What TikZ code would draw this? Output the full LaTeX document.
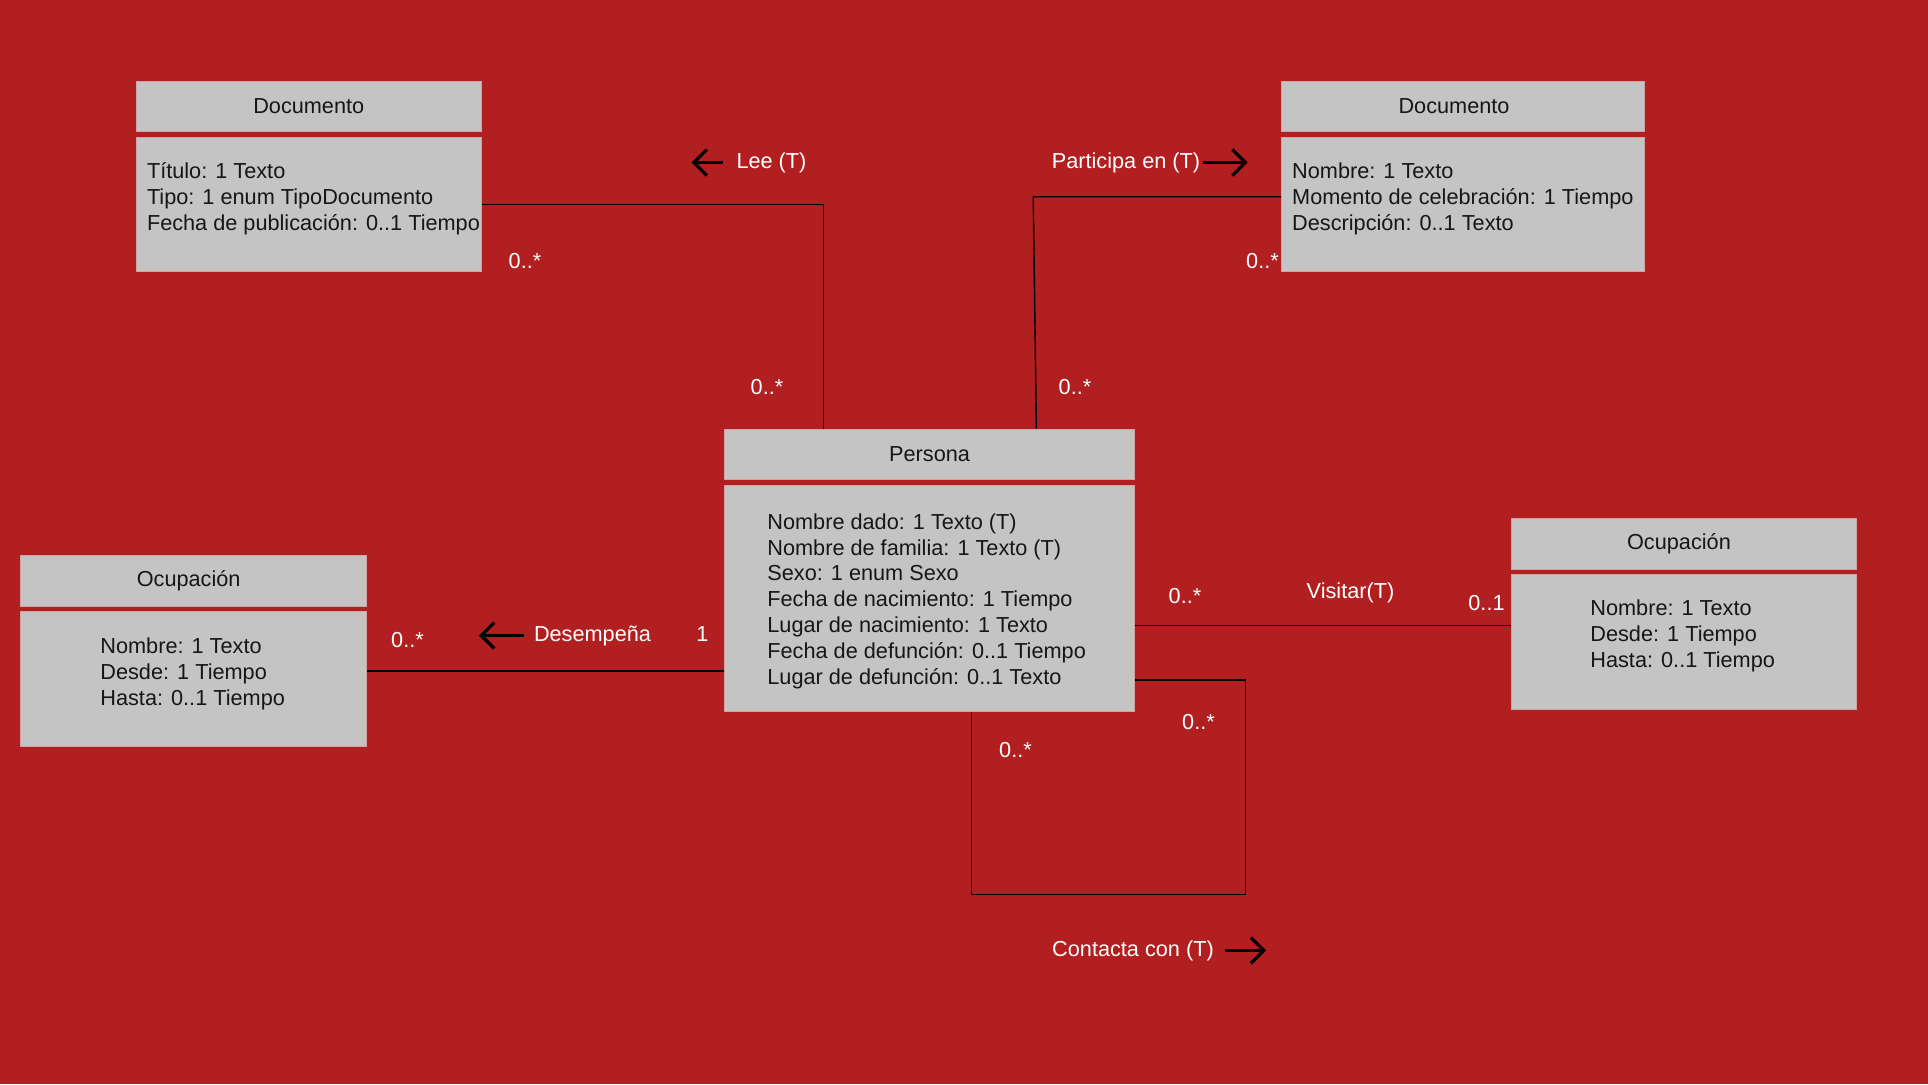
\documentclass[tikz,border=0pt]{standalone}
\usepackage{fontspec}
\setmainfont{Liberation Sans}
\usetikzlibrary{positioning}
\usetikzlibrary{arrows.meta}
\definecolor{bgred}{HTML}{B21F20}
\definecolor{boxgray}{HTML}{C4C4C4}
\definecolor{boxedge}{HTML}{CFA3A3}
\definecolor{boxtext}{HTML}{161616}
\newcommand{\umlfont}{\fontsize{10.85}{12.9}\selectfont}
\tikzset{
  classhead/.style={fill=boxgray, draw=boxedge, line width=0.5pt, inner sep=0pt, minimum height=25.25pt, font=\umlfont, text=boxtext},
  classbody/.style={fill=boxgray, draw=boxedge, line width=0.5pt, inner sep=0pt},
  attrs/.style={anchor=base west, align=left, inner sep=0pt, font=\umlfont, text=boxtext},
  mult/.style={inner sep=0pt, font=\umlfont, text=white},
  assoc/.style={draw=black, line width=0.7pt},
  dirarrow/.style={-{Straight Barb[length=6.5pt,width=13pt]}, line width=1.6pt, black},
}
\begin{document}
\begin{tikzpicture}[x=0.5pt, y=-0.5pt]
  % Background
  \fill[bgred] (0,0) rectangle (1928,1084);

  % Documento (left)
  \node[classhead, minimum width=172.25pt] (docLh) at (308.75,106.4) {Documento};
  \node[classbody, minimum width=172.25pt, minimum height=67.1pt] (docLb) at (308.75,204.7) {};
  \node[attrs] (docLt) at (146.6,230.1) {Título: 1 Texto\\Tipo: 1 enum TipoDocumento\\Fecha de publicación: 0..1 Tiempo};

  % Documento (right)
  \node[classhead, minimum width=181.35pt] (docRh) at (1462.65,106.4) {Documento\hspace*{8.6pt}};
  \node[classbody, minimum width=181.35pt, minimum height=67.1pt] (docRb) at (1462.65,204.7) {};
  \node[attrs] (docRt) at (1291.8,230.1) {Nombre: 1 Texto\\Momento de celebración: 1 Tiempo\\Descripción: 0..1 Texto};

  % Persona
  \node[classhead, minimum width=205.35pt] (perh) at (929.55,454.35) {Persona};
  \node[classbody, minimum width=205.35pt, minimum height=113.15pt] (perb) at (929.55,598.75) {};
  \node[attrs] (pert) at (767,684) {Nombre dado: 1 Texto (T)\\Nombre de familia: 1 Texto (T)\\Sexo: 1 enum Sexo\\Fecha de nacimiento: 1 Tiempo\\Lugar de nacimiento: 1 Texto\\Fecha de defunción: 0..1 Tiempo\\Lugar de defunción: 0..1 Texto};

  % Ocupacion (left)
  \node[classhead, minimum width=172.75pt] (ocLh) at (193.65,580.9) {Ocupación\hspace*{5pt}};
  \node[classbody, minimum width=172.75pt, minimum height=67.3pt] (ocLb) at (193.65,679.1) {};
  \node[attrs] (ocLt) at (100,705.1) {Nombre: 1 Texto\\Desde: 1 Tiempo\\Hasta: 0..1 Tiempo};

  % Ocupacion (right)
  \node[classhead, minimum width=172.75pt] (ocRh) at (1683.95,544) {Ocupación\hspace*{5pt}};
  \node[classbody, minimum width=172.75pt, minimum height=67.3pt] (ocRb) at (1683.95,642.2) {};
  \node[attrs] (ocRt) at (1590,667.4) {Nombre: 1 Texto\\Desde: 1 Tiempo\\Hasta: 0..1 Tiempo};

  % Associations
  \coordinate (leeturn) at (823.6,204.7);
  \draw[assoc] (docLb.east) -- (leeturn) -- (leeturn |- perh.north);
  \coordinate (parturn) at (1033.2,196.7);
  \coordinate (parend) at (1036.4,429);
  \draw[assoc] (parturn -| docRb.west) -- (parturn) -- (parend |- perh.north);
  \coordinate (desrow) at (0,671);
  \draw[assoc] (desrow -| perb.west) -- (desrow -| ocLb.east);
  \coordinate (visrow) at (0,625.5);
  \draw[assoc] (visrow -| perb.east) -- (visrow -| ocRb.west);
  \coordinate (conright) at (1245.4,680);
  \coordinate (conleft) at (971.4,894.2);
  \draw[assoc] (conright -| perb.east) -- (conright) |- (conleft) -- (conleft |- perb.south);

  % Lee
  \node[mult] (leelbl) at (771.5,162.5) {Lee (T)};
  \draw[dirarrow] ([xshift=-6.8pt]leelbl.west) -- ++(-31,0);
  \node[mult] (leedoc) at (525,261) {0..*};
  \node[mult] (leeper) at (767,387) {0..*};

  % Participa en
  \node[mult] (partlbl) at (1126,162.5) {Participa en (T)};
  \draw[dirarrow] ([xshift=1pt]partlbl.east) -- ++(45,0);
  \node[mult] (partdoc) at (1262.5,261) {0..*};
  \node[mult] (partper) at (1075,387) {0..*};

  % Desempena
  \node[mult] (deslbl) at (592.5,635.5) {Desempeña};
  \draw[dirarrow] ([xshift=-4.8pt]deslbl.west) -- ++(-45,0);
  \node[mult] (desocu) at (407.5,640) {0..*};
  \node[mult] (desper) at (702.5,634) {1};

  % Visitar
  \node[mult] (vislbl) at (1350.5,592.5) {Visitar(T)};
  \node[mult] (visper) at (1185,596) {0..*};
  \node[mult] (visocu) at (1486.5,603) {0..1};

  % Contacta con
  \node[mult] (conlbl) at (1133,950.5) {Contacta con (T)};
  \draw[dirarrow] ([xshift=5.5pt]conlbl.east) -- ++(41,0);
  \node[mult] (conin) at (1015.5,750) {0..*};
  \node[mult] (conout) at (1198.5,722) {0..*};
\end{tikzpicture}
\end{document}
